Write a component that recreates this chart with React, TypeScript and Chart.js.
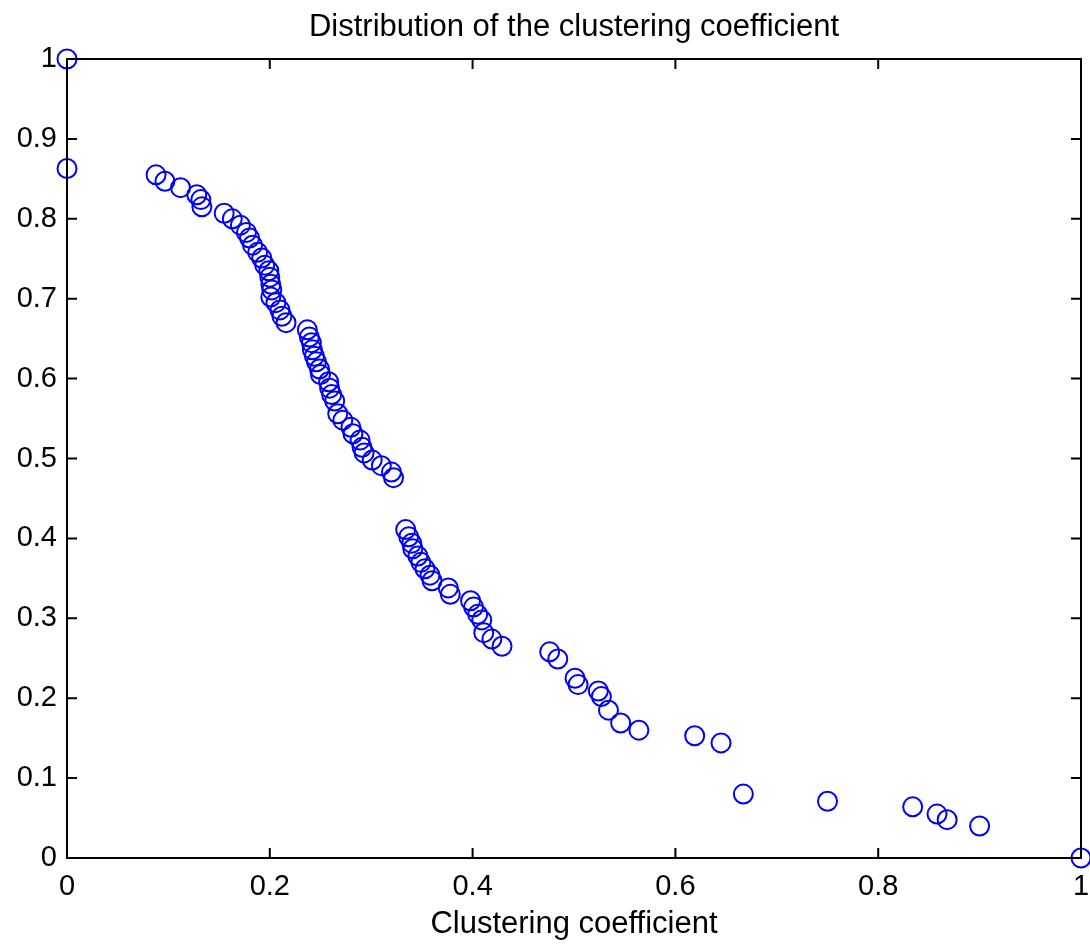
import React, { useEffect, useRef } from "react";
import { Chart, registerables } from "chart.js";

Chart.register(...registerables);

const chartTitle = "Distribution of the clustering coefficient";
const xAxisTitle = "Clustering coefficient";
const xTicks = [0, 0.2, 0.4, 0.6, 0.8, 1];
const yTicks = [0, 0.1, 0.2, 0.3, 0.4, 0.5, 0.6, 0.7, 0.8, 0.9, 1];

const clusteringX = [
  0, 0, 0.0878, 0.0966, 0.112, 0.128, 0.132, 0.133, 0.155, 0.163, 0.171, 0.177,
  0.18, 0.183, 0.188, 0.192, 0.195, 0.199, 0.2, 0.201, 0.202, 0.201, 0.206, 0.21,
  0.212, 0.216, 0.237, 0.239, 0.241, 0.242, 0.244, 0.246, 0.249, 0.25, 0.258,
  0.259, 0.261, 0.264, 0.267, 0.272, 0.28, 0.282, 0.289, 0.291, 0.293, 0.301,
  0.31, 0.32, 0.322, 0.334, 0.337, 0.34, 0.341, 0.346, 0.349, 0.353, 0.358, 0.36,
  0.376, 0.378, 0.398, 0.401, 0.405, 0.409, 0.411, 0.419, 0.429, 0.476, 0.484,
  0.501, 0.504, 0.524, 0.527, 0.534, 0.546, 0.564, 0.619, 0.645, 0.667, 0.75,
  0.834, 0.858, 0.868, 0.9, 1,
];

const distributionY = [
  1, 0.863, 0.855, 0.847, 0.839, 0.83, 0.824, 0.815, 0.807, 0.8, 0.792, 0.783,
  0.776, 0.767, 0.758, 0.751, 0.742, 0.735, 0.727, 0.718, 0.711, 0.702, 0.695,
  0.686, 0.678, 0.67, 0.661, 0.652, 0.645, 0.636, 0.628, 0.621, 0.612, 0.605,
  0.596, 0.588, 0.58, 0.572, 0.556, 0.548, 0.539, 0.531, 0.523, 0.514, 0.507,
  0.498, 0.491, 0.483, 0.476, 0.411, 0.402, 0.394, 0.387, 0.378, 0.37, 0.362,
  0.354, 0.347, 0.338, 0.33, 0.322, 0.314, 0.305, 0.298, 0.282, 0.274, 0.265,
  0.258, 0.249, 0.225, 0.217, 0.209, 0.202, 0.185, 0.169, 0.16, 0.153, 0.144,
  0.08, 0.071, 0.064, 0.055, 0.048, 0.04, 0,
];

const FONT = "'Liberation Sans', Arial, Helvetica, sans-serif";

const boxPlugin = {
  id: "matlabBox",
  afterDraw(chart: any) {
    const { ctx, chartArea, scales } = chart;
    const { left, right, top, bottom } = chartArea;
    const len = 10;
    ctx.save();
    // title centred over the plot area (MATLAB style)
    ctx.fillStyle = "#000";
    ctx.font = `31px ${FONT}`;
    ctx.textAlign = "center";
    ctx.textBaseline = "middle";
    ctx.fillText(chartTitle, (left + right) / 2, 27);

    ctx.strokeStyle = "#000";
    ctx.lineWidth = 2;
    ctx.beginPath();
    ctx.rect(left, top, right - left, bottom - top);
    ctx.stroke();
    ctx.beginPath();
    for (const v of xTicks) {
      const px = scales.x.getPixelForValue(v);
      ctx.moveTo(px, bottom);
      ctx.lineTo(px, bottom - len);
      ctx.moveTo(px, top);
      ctx.lineTo(px, top + len);
    }
    for (const v of yTicks) {
      const py = scales.y.getPixelForValue(v);
      ctx.moveTo(left, py);
      ctx.lineTo(left + len, py);
      ctx.moveTo(right, py);
      ctx.lineTo(right - len, py);
    }
    ctx.stroke();
    ctx.restore();
  },
};

export default function App() {
  const canvasRef = useRef<HTMLCanvasElement | null>(null);

  useEffect(() => {
    if (!canvasRef.current) return;
    const points = clusteringX.map((x, i) => ({ x, y: distributionY[i] }));
    const chart = new Chart(canvasRef.current, {
      type: "scatter",
      data: {
        datasets: [
          {
            data: points,
            pointStyle: "circle",
            pointRadius: 9.5,
            pointHoverRadius: 9.5,
            pointBorderWidth: 2,
            pointBorderColor: "#0000ff",
            pointBackgroundColor: "rgba(0,0,0,0)",
            clip: false as any,
          },
        ],
      },
      options: {
        animation: false,
        responsive: false,
        maintainAspectRatio: false,
        layout: { autoPadding: false, padding: { left: 0, right: 9, top: 59, bottom: 0 } },
        plugins: {
          legend: { display: false },
          tooltip: { enabled: false },
          title: { display: false },
        },
        scales: {
          x: {
            type: "linear",
            min: 0,
            max: 1,
            afterBuildTicks(scale: any) {
              scale.ticks = xTicks.map((v) => ({ value: v }));
            },
            afterFit(scale: any) {
              scale.height = 87;
              scale.paddingLeft = 0;
              scale.paddingRight = 0;
            },
            grid: { display: false, drawTicks: false },
            border: { display: false },
            ticks: {
              color: "#000",
              padding: 12,
              maxRotation: 0,
              autoSkip: false,
              font: { family: FONT, size: 29 },
              callback: (v: any) => String(v),
            },
            title: {
              display: true,
              text: xAxisTitle,
              color: "#000",
              font: { family: FONT, size: 31 },
              padding: { top: 0, bottom: 2 },
            },
          },
          y: {
            type: "linear",
            min: 0,
            max: 1,
            afterBuildTicks(scale: any) {
              scale.ticks = yTicks.map((v) => ({ value: v }));
            },
            afterFit(scale: any) {
              scale.width = 67;
              scale.paddingTop = 0;
              scale.paddingBottom = 0;
            },
            grid: { display: false, drawTicks: false },
            border: { display: false },
            ticks: {
              color: "#000",
              padding: 10,
              autoSkip: false,
              font: { family: FONT, size: 29 },
              callback: (v: any) => String(v),
            },
          },
        },
      },
      plugins: [boxPlugin],
    });
    return () => chart.destroy();
  }, []);

  return (
    <div style={{ position: "absolute", left: 0, top: 0, width: 1090, height: 945, background: "#fff" }}>
      <canvas ref={canvasRef} width={1090} height={945} style={{ width: 1090, height: 945 }} />
    </div>
  );
}
